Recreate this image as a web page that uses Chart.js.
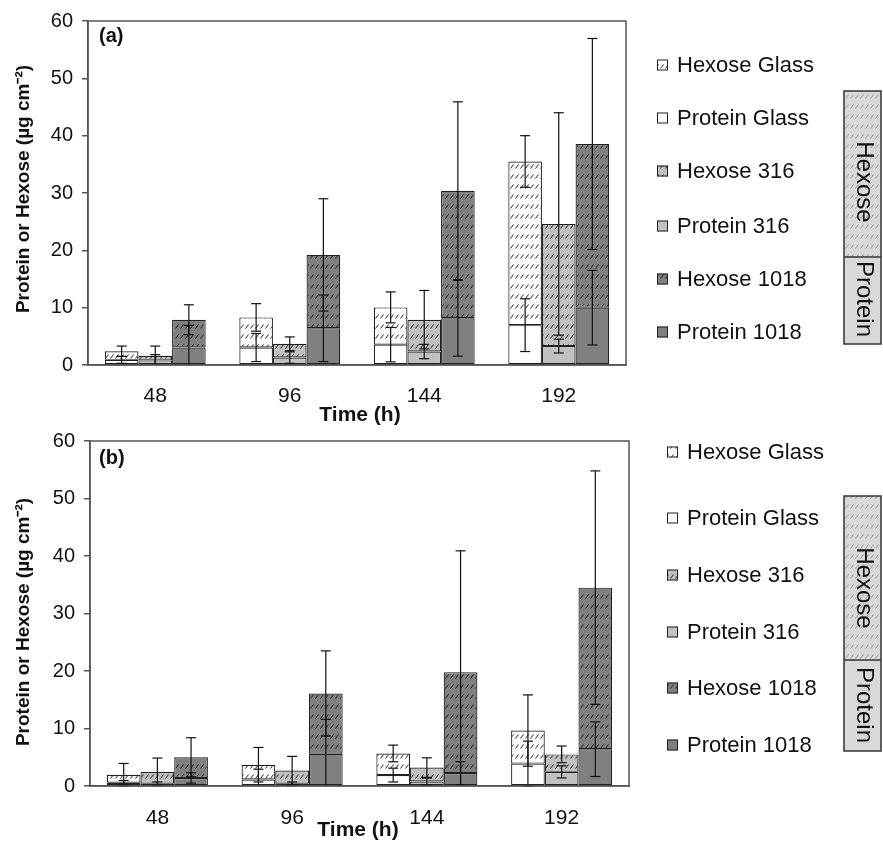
<!DOCTYPE html>
<html>
<head>
<meta charset="utf-8">
<script src="https://cdn.jsdelivr.net/npm/chart.js@4.4.0/dist/chart.umd.min.js"></script>
<style>
html,body{margin:0;padding:0;background:#fff;}
#wrap{position:relative;width:883px;height:856px;}
canvas{position:absolute;left:0;}
</style>
</head>
<body>
<div id="wrap">
<canvas id="ca" width="883" height="432" style="top:0"></canvas>
<canvas id="cb" width="883" height="436" style="top:420px"></canvas>
</div>
<script>
// ---------- DATA ----------
const categories = ['48', '96', '144', '192'];
const yTicks = [0, 10, 20, 30, 40, 50, 60];
const seriesNames = ['Hexose Glass', 'Protein Glass', 'Hexose 316', 'Protein 316', 'Hexose 1018', 'Protein 1018'];

// Panel (a)
const proteinGlassA = [0.9, 3.05, 3.55, 6.95];
const hexoseGlassA  = [1.5, 5.25, 6.5, 28.55];
const protein316A   = [0.8, 1.3, 2.35, 3.3];
const hexose316A    = [0.8, 2.4, 5.55, 21.3];
const protein1018A  = [3.05, 6.4, 8.15, 10.0];
const hexose1018A   = [4.85, 12.8, 22.25, 28.55];
const errProteinGlassA = [0.6, 2.45, 3.0, 4.6];
const errHexoseGlassA  = [0.9, 2.4, 2.7, 4.5];
const errProtein316A   = [1.0, 1.0, 1.25, 1.2];
const errHexose316A    = [1.7, 1.2, 5.1, 19.4];
const errProtein1018A  = [3.85, 5.8, 6.6, 6.5];
const errHexose1018A   = [2.6, 9.8, 15.5, 18.4];

// Panel (b)
const proteinGlassB = [0.56, 1.12, 1.9, 3.9];
const hexoseGlassB  = [1.4, 2.58, 3.76, 5.74];
const protein316B   = [0.4, 0.4, 0.78, 2.46];
const hexose316B    = [2.06, 2.3, 2.42, 3.04];
const protein1018B  = [1.4, 5.6, 2.24, 6.4];
const hexose1018B   = [3.6, 10.5, 17.56, 28.1];
const errProteinGlassB = [0.4, 1.8, 1.2, 3.9];
const errHexoseGlassB  = [1.96, 3.0, 1.45, 6.2];
const errProtein316B   = [0.3, 0.3, 0.6, 1.06];
const errHexose316B    = [2.4, 2.45, 1.7, 1.45];
const errProtein1018B  = [0.9, 6.0, 2.0, 4.75];
const errHexose1018B   = [3.4, 7.4, 21.1, 20.3];

// ---------- STYLE ----------
const FONT = '"Liberation Sans", Arial, Helvetica, sans-serif';
const colGlass = '#ffffff', col316 = '#c0c0c0', col1018 = '#808080';

function makeHatch(base, line) {
  const c = document.createElement('canvas');
  c.width = 5; c.height = 10;
  const g = c.getContext('2d');
  g.fillStyle = base; g.fillRect(0, 0, 5, 10);
  g.strokeStyle = line; g.lineWidth = 1;
  g.beginPath(); g.moveTo(0.5, 8.5); g.lineTo(3.5, 4.5); g.stroke();
  return g.createPattern(c, 'repeat');
}
const hatchGlass = makeHatch(colGlass, '#222');
const hatch316 = makeHatch(col316, '#222');
const hatch1018 = makeHatch(col1018, '#1a1a1a');
const hatchKey = makeHatch('#d9d9d9', '#999');
const legendFills = [hatchGlass, colGlass, hatch316, col316, hatch1018, col1018];

Chart.defaults.font.family = FONT;

function buildDatasets(pG, hG, p3, h3, p1, h1, ePG, eHG, eP3, eH3, eP1, eH1) {
  const common = {borderColor: '#222', borderWidth: 1.2, borderSkipped: false,
                  categoryPercentage: 0.75, barPercentage: 1.0};
  return [
    Object.assign({label: 'Protein Glass', data: pG, stack: 'glass', backgroundColor: colGlass, err: ePG}, common),
    Object.assign({label: 'Hexose Glass', data: hG, stack: 'glass', backgroundColor: hatchGlass, err: eHG}, common),
    Object.assign({label: 'Protein 316', data: p3, stack: 's316', backgroundColor: col316, err: eP3}, common),
    Object.assign({label: 'Hexose 316', data: h3, stack: 's316', backgroundColor: hatch316, err: eH3}, common),
    Object.assign({label: 'Protein 1018', data: p1, stack: 's1018', backgroundColor: col1018, err: eP1}, common),
    Object.assign({label: 'Hexose 1018', data: h1, stack: 's1018', backgroundColor: hatch1018, err: eH1}, common)
  ];
}

function decorPlugin(cfg) {
  return {
    id: 'decor',
    afterDatasetsDraw(chart) {
      const ctx = chart.ctx, ys = chart.scales.y;
      ctx.save();
      ctx.strokeStyle = '#111'; ctx.lineWidth = 1.2;
      chart.data.datasets.forEach((ds, i) => {
        const meta = chart.getDatasetMeta(i);
        const isHex = ds.label.startsWith('Hexose');
        const base = isHex ? chart.data.datasets[i - 1].data : null;
        meta.data.forEach((bar, j) => {
          const center = ds.data[j] + (isHex ? base[j] : 0);
          const e = ds.err[j];
          const top = ys.getPixelForValue(center + e);
          const bot = ys.getPixelForValue(Math.max(center - e, 0));
          const botClipped = center - e < 0;
          const x = bar.x;
          ctx.beginPath(); ctx.moveTo(x, top); ctx.lineTo(x, bot); ctx.stroke();
          ctx.beginPath(); ctx.moveTo(x - 5, top); ctx.lineTo(x + 5, top); ctx.stroke();
          if (!botClipped) { ctx.beginPath(); ctx.moveTo(x - 5, bot); ctx.lineTo(x + 5, bot); ctx.stroke(); }
        });
      });
      ctx.restore();
    },
    afterDraw(chart) {
      const ctx = chart.ctx, a = chart.chartArea;
      ctx.save();
      ctx.strokeStyle = '#555'; ctx.lineWidth = 1.5;
      ctx.strokeRect(a.left, a.top, a.right - a.left, a.bottom - a.top);
      ctx.fillStyle = '#111';
      ctx.font = 'bold 20px ' + FONT;
      ctx.textAlign = 'left'; ctx.textBaseline = 'middle';
      ctx.fillText(cfg.panel, 99, cfg.panelY);
      ctx.font = 'bold 21px ' + FONT; ctx.textAlign = 'center';
      ctx.fillText('Time (h)', cfg.xTitleX, cfg.xTitleY);
      ctx.save();
      ctx.translate(24, cfg.yTitleY); ctx.rotate(-Math.PI / 2);
      ctx.font = 'bold 19px ' + FONT; ctx.textAlign = 'center'; ctx.textBaseline = 'middle';
      ctx.fillText('Protein or Hexose (\u00b5g cm\u207b\u00b2)', 0, 0);
      ctx.restore();
      ctx.font = '22px ' + FONT; ctx.textAlign = 'left'; ctx.textBaseline = 'middle';
      seriesNames.forEach((name, k) => {
        const y = cfg.legendY[k];
        ctx.fillStyle = legendFills[k];
        ctx.fillRect(cfg.legendX, y - 5.5, 11, 11);
        ctx.strokeStyle = '#222'; ctx.lineWidth = 1;
        ctx.strokeRect(cfg.legendX + 0.5, y - 5, 10, 10);
        ctx.fillStyle = '#111';
        ctx.fillText(name, cfg.legendX + 20, y + 1);
      });
      const k = cfg.key;
      ctx.fillStyle = hatchKey; ctx.fillRect(k.x, k.top, k.w, k.mid - k.top);
      ctx.fillStyle = '#d9d9d9'; ctx.fillRect(k.x, k.mid, k.w, k.bottom - k.mid);
      ctx.strokeStyle = '#333'; ctx.lineWidth = 1.5;
      ctx.strokeRect(k.x, k.top, k.w, k.bottom - k.top);
      ctx.beginPath(); ctx.moveTo(k.x, k.mid); ctx.lineTo(k.x + k.w, k.mid); ctx.stroke();
      ctx.fillStyle = '#111'; ctx.font = '24px ' + FONT;
      ctx.textAlign = 'center'; ctx.textBaseline = 'middle';
      [['Hexose', k.hexY], ['Protein', k.protY]].forEach(([t, cy]) => {
        ctx.save(); ctx.translate(k.x + k.w / 2 + 1, cy); ctx.rotate(Math.PI / 2);
        ctx.fillText(t, 0, 0); ctx.restore();
      });
      ctx.restore();
    }
  };
}

function makeChart(id, datasets, L, cfg) {
  return new Chart(document.getElementById(id), {
    type: 'bar',
    data: {labels: categories, datasets: datasets},
    options: {
      responsive: false, animation: false, devicePixelRatio: 1,
      layout: {padding: {left: 0, right: L.padRight, top: L.padTop, bottom: 0}},
      plugins: {legend: {display: false}, tooltip: {enabled: false}},
      scales: {
        x: {
          stacked: true,
          grid: {display: false},
          border: {display: true, color: '#555', width: 1.5},
          ticks: {font: {size: 21}, color: '#111', padding: L.xPad},
          afterFit(s) { s.height = L.xHeight; }
        },
        y: {
          stacked: true, min: 0, max: 60,
          afterBuildTicks(s) { s.ticks = yTicks.map(v => ({value: v})); },
          grid: {drawOnChartArea: false, drawTicks: true, tickLength: 6, color: '#555', lineWidth: 1.5},
          border: {display: true, color: '#555', width: 1.5},
          ticks: {font: {size: 20}, color: '#111', padding: 9},
          afterFit(s) { s.width = L.yWidth; }
        }
      }
    },
    plugins: [decorPlugin(cfg)]
  });
}

makeChart('ca',
  buildDatasets(proteinGlassA, hexoseGlassA, protein316A, hexose316A, protein1018A, hexose1018A,
                errProteinGlassA, errHexoseGlassA, errProtein316A, errHexose316A, errProtein1018A, errHexose1018A),
  {padRight: 257, padTop: 16, xHeight: 67, yWidth: 88, xPad: 11},
  {panel: '(a)', panelY: 36, xTitleX: 360, xTitleY: 415, yTitleY: 189,
   legendX: 657, legendY: [65, 118, 171, 226, 279, 332],
   key: {x: 844, w: 37, top: 91, mid: 257, bottom: 344, hexY: 182, protY: 299}});

makeChart('cb',
  buildDatasets(proteinGlassB, hexoseGlassB, protein316B, hexose316B, protein1018B, hexose1018B,
                errProteinGlassB, errHexoseGlassB, errProtein316B, errHexose316B, errProtein1018B, errHexose1018B),
  {padRight: 254, padTop: 8, xHeight: 70, yWidth: 90, xPad: 12},
  {panel: '(b)', panelY: 38, xTitleX: 358, xTitleY: 410, yTitleY: 202,
   legendX: 667, legendY: [32, 98, 155, 212, 268, 325],
   key: {x: 844, w: 37, top: 76, mid: 240, bottom: 331, hexY: 168, protY: 285}});
</script>
</body>
</html>
